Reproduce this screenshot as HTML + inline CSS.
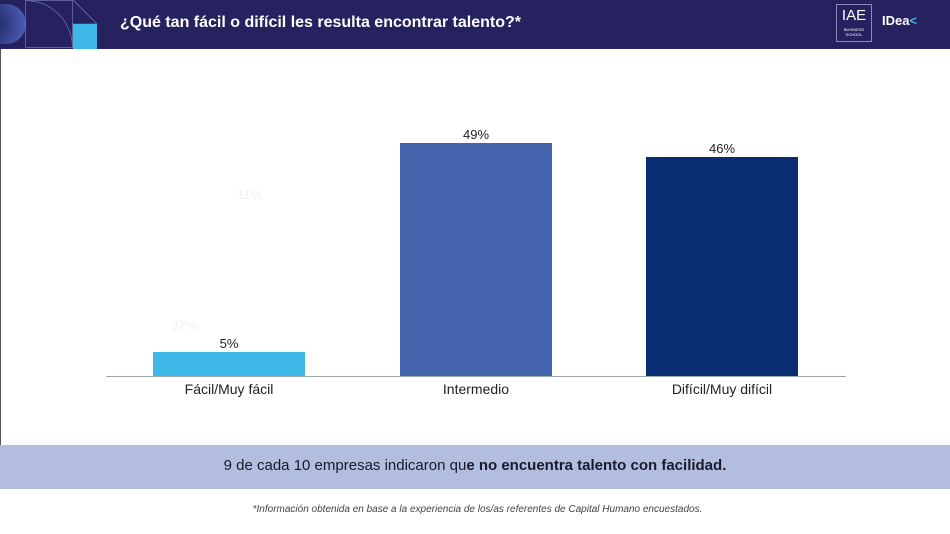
<!DOCTYPE html>
<html><head><meta charset="utf-8"><style>
body{margin:0;width:950px;height:534px;position:relative;background:#fff;font-family:"Liberation Sans",sans-serif;overflow:hidden}
.a{position:absolute}
</style></head><body>
<div class="a" style="left:0;top:0;width:950px;height:49px;background:#26225f"></div>
<svg class="a" style="left:0;top:0" width="100" height="49">
<defs><radialGradient id="g" cx="0.1" cy="0.5" r="0.9"><stop offset="0" stop-color="#1c1f5a"/><stop offset="1" stop-color="#4b5cb5"/></radialGradient></defs>
<circle cx="6" cy="24" r="20" fill="url(#g)"/>
<rect x="25.5" y="0.5" width="47" height="47" fill="none" stroke="#6b6fa8" stroke-width="0.8"/>
<path d="M25.5 0.5 A47 47 0 0 1 72.5 47.5" fill="none" stroke="#6b6fa8" stroke-width="0.8"/>
<path d="M73 0 L97 24 L73 24" fill="none" stroke="#6b6fa8" stroke-width="0.8"/>
<rect x="73" y="24" width="24" height="25" fill="#3cb7e8"/>
</svg>
<div class="a" style="left:120px;top:14px;color:#fff;font-size:16px;font-weight:bold">¿Qué tan fácil o difícil les resulta encontrar talento?*</div>
<div class="a" style="left:836px;top:4px;width:34px;height:36px;border:1px solid #8a8cb8;color:#fff;font-size:15px;text-align:center;line-height:22px">IAE<div style="font-size:4px;line-height:5px">BUSINESS<br>SCHOOL</div></div>
<div class="a" style="left:882px;top:13px;color:#fff;font-size:13px;font-weight:bold">IDea<span style="color:#3cb7e8">&lt;</span></div>
<div class="a" style="left:0;top:49px;width:1px;height:396px;background:#555"></div>
<div class="a" style="left:237px;top:187px;color:#f0f0f0;font-size:13px">11%</div>
<div class="a" style="left:171px;top:318px;color:#f0f0f0;font-size:13px">37%</div>
<div class="a" style="left:153px;top:352px;width:152px;height:24px;background:#3fb8e8"></div>
<div class="a" style="left:400px;top:143px;width:152px;height:233px;background:#4463ad"></div>
<div class="a" style="left:646px;top:157px;width:152px;height:219px;background:#0a2c72"></div>
<div class="a" style="left:106px;top:376px;width:740px;height:1px;background:#9aa"></div>
<div class="a" style="left:153px;top:336px;width:152px;text-align:center;font-size:13px;color:#222">5%</div>
<div class="a" style="left:400px;top:127px;width:152px;text-align:center;font-size:13px;color:#222">49%</div>
<div class="a" style="left:646px;top:141px;width:152px;text-align:center;font-size:13px;color:#222">46%</div>
<div class="a" style="left:129px;top:381px;width:200px;text-align:center;font-size:14px;color:#222">Fácil/Muy fácil</div>
<div class="a" style="left:376px;top:381px;width:200px;text-align:center;font-size:14px;color:#222">Intermedio</div>
<div class="a" style="left:622px;top:381px;width:200px;text-align:center;font-size:14px;color:#222">Difícil/Muy difícil</div>
<div class="a" style="left:0;top:445px;width:950px;height:44px;background:#b3bde0"></div>
<div class="a" style="left:0;top:457px;width:950px;text-align:center;font-size:15px;color:#1a1a2a">9 de cada 10 empresas indicaron qu<b>e no encuentra talento con facilidad.</b></div>
<div class="a" style="left:0;top:504px;width:955px;text-align:center;font-size:10px;font-style:italic;color:#444">*Información obtenida en base a la experiencia de los/as referentes de Capital Humano encuestados.</div>
</body></html>
